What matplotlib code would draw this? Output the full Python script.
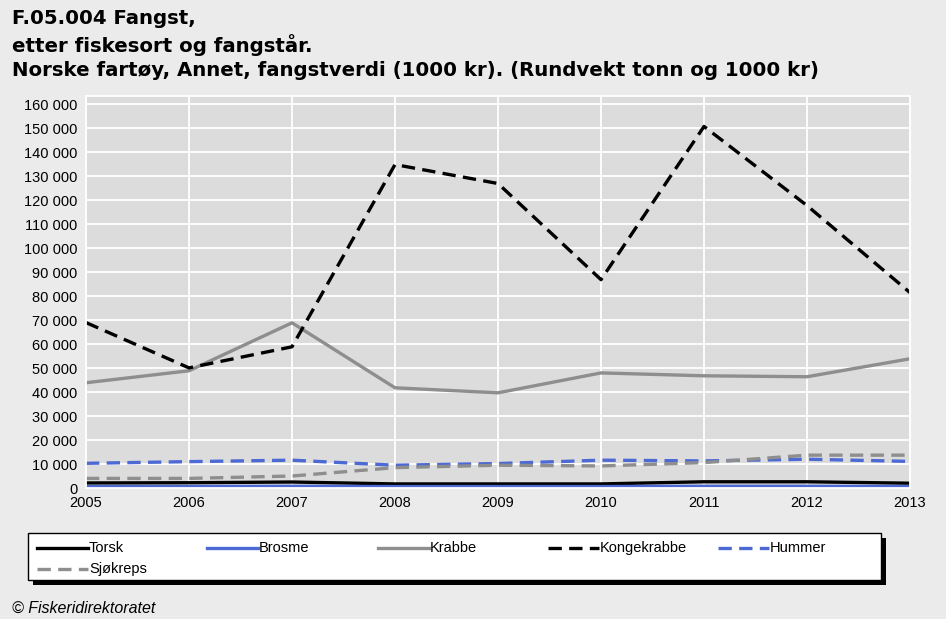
import numpy as np
import matplotlib
matplotlib.use('Agg')
import matplotlib.pyplot as plt
from matplotlib.ticker import FuncFormatter
from matplotlib.patches import Rectangle
from matplotlib.lines import Line2D

years = [2005, 2006, 2007, 2008, 2009, 2010, 2011, 2012, 2013]

torsk = [2100, 2200, 2500, 1700, 1700, 1700, 2600, 2600, 2000]
brosme = [600, 600, 700, 600, 600, 600, 700, 700, 600]
krabbe = [43900, 48900, 68900, 41800, 39700, 48000, 46800, 46400, 53900]
kongekrabbe = [69000, 50100, 58900, 134900, 127000, 86900, 150800, 117800, 81500]
hummer = [10300, 11000, 11600, 9500, 10200, 11600, 11300, 12000, 11100]
sjokreps = [4000, 4000, 5000, 8500, 9500, 9200, 10600, 13700, 13700]

names = ['Torsk', 'Brosme', 'Krabbe', 'Kongekrabbe', 'Hummer', 'Sjøkreps']
title_lines = ['F.05.004 Fangst,',
               'etter fiskesort og fangstår.',
               'Norske fartøy, Annet, fangstverdi (1000 kr). (Rundvekt tonn og 1000 kr)']

W, H = 946, 619
fig = plt.figure(figsize=(W / 100, H / 100), dpi=100)
fig.patch.set_facecolor('#ebebeb')


def fx(px):
    return px / W


def fy(py):
    return 1 - py / H


ax = fig.add_axes([fx(86), fy(488), (910 - 86) / W, (488 - 96) / H])
ax.set_facecolor('#dcdcdc')

blue = '#4d69d3'
gray = '#8e8e8e'
lw = 2.4
dash = (0, (4, 2.2))

series = [torsk, brosme, krabbe, kongekrabbe, hummer, sjokreps]
styles = [
    dict(color='black', linestyle='-'),
    dict(color=blue, linestyle='-'),
    dict(color=gray, linestyle='-'),
    dict(color='black', linestyle=dash),
    dict(color=blue, linestyle=dash),
    dict(color=gray, linestyle=dash),
]
for vals, st, name in zip(series, styles, names):
    ax.plot(years, vals, linewidth=lw, label=name, **st)

ax.set_xlim(2005, 2013)
ax.set_ylim(0, 163500)
ax.set_xticks(years)
ax.set_yticks(np.arange(0, 160001, 10000))
ax.yaxis.set_major_formatter(FuncFormatter(lambda v, p: f'{int(v):,}'.replace(',', ' ')))
ax.grid(True, color='white', linewidth=1.3)
ax.set_axisbelow(True)
ax.tick_params(length=0, labelsize=10.5)
ax.tick_params(axis='x', pad=6)
ax.tick_params(axis='y', pad=6)
for lab in ax.get_xticklabels() + ax.get_yticklabels():
    lab.set_fontfamily('Liberation Sans')
for s in ax.spines.values():
    s.set_color('white')
    s.set_linewidth(1.3)

# title, three lines
for t, py in zip(title_lines, [18, 45, 71]):
    fig.text(fx(12), fy(py), t, fontsize=14.2, fontweight='bold',
             family='DejaVu Sans', va='center', ha='left')

# legend box with shadow
bx0, by0, bx1, by1 = 28, 533, 881, 580
fig.add_artist(Rectangle((fx(bx0 + 5), fy(by1 + 5)), (bx1 - bx0) / W, (by1 - by0) / H,
                         transform=fig.transFigure, facecolor='black',
                         edgecolor='none', zorder=1))
fig.add_artist(Rectangle((fx(bx0), fy(by1)), (bx1 - bx0) / W, (by1 - by0) / H,
                         transform=fig.transFigure, facecolor='white',
                         edgecolor='black', linewidth=1, zorder=2))
col_x = [37, 207, 378, 548, 718]
row_y = [548, 569]
for i, (st, name) in enumerate(zip(styles, names)):
    r, c = divmod(i, 5)
    x0 = col_x[c]
    y0 = row_y[r]
    fig.add_artist(Line2D([fx(x0), fx(x0 + 51)], [fy(y0), fy(y0)],
                          transform=fig.transFigure, linewidth=lw,
                          zorder=3, **st))
    fig.text(fx(x0 + 52), fy(y0), name, fontsize=10.5, family='Liberation Sans',
             va='center', ha='left', zorder=4)

fig.text(fx(12), fy(608), '© Fiskeridirektoratet', fontsize=11.5,
         style='italic', family='Liberation Sans', va='center', ha='left')

fig.savefig('out.png', dpi=100, facecolor=fig.get_facecolor())
